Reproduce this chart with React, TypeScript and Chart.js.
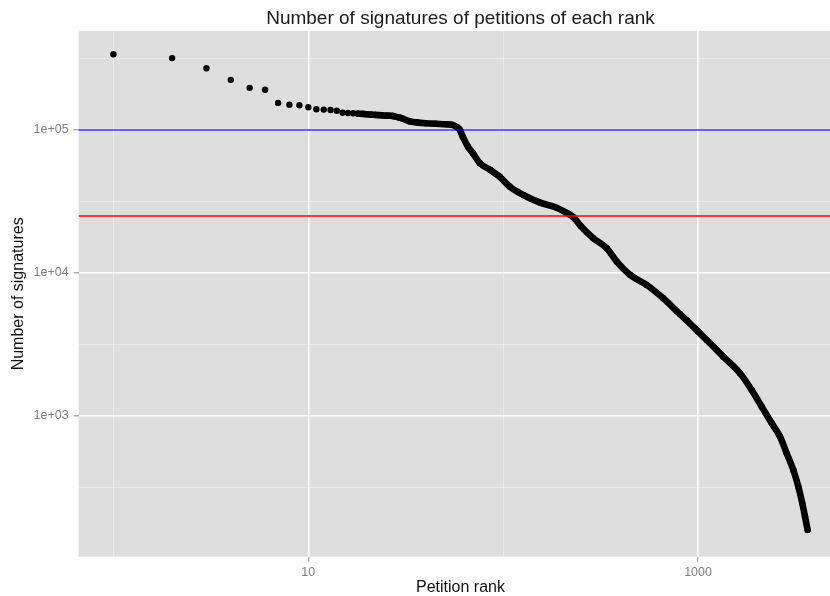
import { useEffect, useRef } from 'react';
import { Chart, registerables } from 'chart.js';

Chart.register(...registerables);

const chartTitle = 'Number of signatures of petitions of each rank';
const xAxisTitle = 'Petition rank';
const yAxisTitle = 'Number of signatures';

// Petition rank (x) and number of signatures (y)
const petitionRanks = [
  1, 2, 3, 4, 5, 6, 7, 8, 9, 10,
  11, 12, 13, 14, 15, 16, 17, 18, 19, 20,
  21, 22, 23, 24, 25, 26, 27, 28, 29, 30,
  33, 36, 40, 45, 51, 55, 58, 60, 62, 66,
  70, 76, 86, 96, 108, 127, 155, 188, 212, 229,
  250, 290, 340, 383, 448, 545, 663, 808, 875,
  1000, 1108, 1348, 1642, 1885, 2123, 2389, 2635, 2852, 3084,
  3271, 3429, 3540, 3650,
];
const signatureCounts = [
  338000, 318000, 270000, 224000, 197000, 191000, 154600, 150300, 149000, 144000,
  139600, 138800, 138000, 136400, 132000, 131500, 130800, 130000, 129500, 128800,
  128000, 127500, 127000, 126500, 126000, 125800, 125500, 124000, 122500, 121000,
  115000, 113000, 111500, 110500, 109600, 108400, 104500, 100000, 89800, 76400,
  68700, 58500, 52500, 47100, 40200, 35100, 31000, 28600, 26300, 24600,
  21300, 17500, 14900, 12000, 9700, 8250, 6650, 5150, 4670,
  3900, 3400, 2600, 1990, 1520, 1160, 889, 716, 548, 419,
  321, 245, 198, 160,
];

// Rank from which the points merge into one continuous run
const denseFromRank = 18;

const xTickValues = [1, 10, 100, 1000];
const xTickLabels = ['', '10', '', '1000'];
const yTickValues = [316.227766, 1000, 3162.27766, 10000, 31622.7766, 100000, 316227.766];
const yTickLabels = ['', '1e+03', '', '1e+04', '', '1e+05', ''];

const thresholdValues = [100000, 25000];
const thresholdColors = ['rgba(0,0,255,0.6)', '#ff0000'];
const thresholdWidths = [2, 1.5];

const X_MIN = 0.6633;
const X_MAX = 5500;
const Y_MIN = 103.8;
const Y_MAX = 492000;

const FONT = '"Liberation Sans", Arial, Helvetica, sans-serif';

const panelBackground = {
  id: 'panelBackground',
  beforeDraw(chart: any) {
    const { ctx, chartArea } = chart;
    ctx.save();
    ctx.fillStyle = '#dedede';
    ctx.fillRect(chartArea.left, chartArea.top, chartArea.right - chartArea.left, chartArea.bottom - chartArea.top);
    ctx.restore();
  },
};

const thresholdLines = {
  id: 'thresholdLines',
  afterDatasetsDraw(chart: any) {
    const { ctx, chartArea, scales } = chart;
    ctx.save();
    thresholdValues.forEach((v, i) => {
      const y = scales.y.getPixelForValue(v);
      ctx.strokeStyle = thresholdColors[i];
      ctx.lineWidth = thresholdWidths[i];
      ctx.beginPath();
      ctx.moveTo(chartArea.left, y);
      ctx.lineTo(chartArea.right, y);
      ctx.stroke();
    });
    ctx.restore();
  },
};

const makeGrid = (labels: string[]) => {
  const major = (c: any) => !!labels[c.index];
  return {
    color: (c: any) => (major(c) ? '#ffffff' : 'rgba(255,255,255,0.45)'),
    lineWidth: (c: any) => (major(c) ? 1.6 : 0.8),
    tickColor: (c: any) => (major(c) ? '#8a8a8a' : 'rgba(0,0,0,0)'),
    tickLength: 5,
    tickWidth: 1,
    drawTicks: true,
    drawOnChartArea: true,
  };
};

export default function App() {
  const canvasRef = useRef<HTMLCanvasElement | null>(null);

  useEffect(() => {
    if (!canvasRef.current) return;
    const allPoints = petitionRanks.map((r, i) => ({ x: r, y: signatureCounts[i] }));
    const densePoints = allPoints.filter((p) => p.x >= denseFromRank);

    const chart = new Chart(canvasRef.current, {
      type: 'scatter',
      data: {
        datasets: [
          {
            label: 'dense',
            data: densePoints,
            showLine: true,
            borderColor: '#000000',
            borderWidth: 6.6,
            borderCapStyle: 'round',
            borderJoinStyle: 'round',
            pointRadius: 0,
            cubicInterpolationMode: 'monotone',
          } as any,
          {
            label: 'petitions',
            data: allPoints,
            showLine: false,
            backgroundColor: '#000000',
            borderWidth: 0,
            pointRadius: 3.2,
          },
        ],
      },
      options: {
        responsive: false,
        animation: false,
        devicePixelRatio: 1,
        events: [],
        layout: { padding: { top: 0, right: 17.7, bottom: 0, left: 0 } },
        plugins: {
          legend: { display: false },
          tooltip: { enabled: false },
          title: {
            display: true,
            text: chartTitle,
            fullSize: false,
            color: '#1a1a1a',
            font: { family: FONT, size: 19, weight: 'normal', lineHeight: 1.2 },
            padding: { top: 7, bottom: 1.2 },
          } as any,
        },
        scales: {
          x: {
            type: 'logarithmic',
            min: X_MIN,
            max: X_MAX,
            border: { display: false },
            grid: makeGrid(xTickLabels) as any,
            afterBuildTicks: (scale: any) => {
              scale.ticks = xTickValues.map((v) => ({ value: v }));
            },
            afterFit: (scale: any) => {
              scale.height = 39.3;
            },
            ticks: {
              autoSkip: false,
              maxRotation: 0,
              padding: 3,
              color: '#7f7f7f',
              font: { family: FONT, size: 12.5 },
              callback: (_v: any, i: number) => xTickLabels[i],
            },
            title: {
              display: true,
              text: xAxisTitle,
              color: '#111111',
              font: { family: FONT, size: 16, lineHeight: 1 },
              padding: { top: 0, bottom: 0 },
            },
          },
          y: {
            type: 'logarithmic',
            min: Y_MIN,
            max: Y_MAX,
            border: { display: false },
            grid: makeGrid(yTickLabels) as any,
            afterBuildTicks: (scale: any) => {
              scale.ticks = yTickValues.map((v) => ({ value: v }));
            },
            afterFit: (scale: any) => {
              scale.width = 78.7;
            },
            ticks: {
              autoSkip: false,
              padding: 5,
              color: '#7f7f7f',
              font: { family: FONT, size: 12.5 },
              callback: (_v: any, i: number) => yTickLabels[i],
            },
            title: {
              display: true,
              text: yAxisTitle,
              color: '#111111',
              font: { family: FONT, size: 16, lineHeight: 1.2 },
              padding: { top: 9.4, bottom: 0 },
            },
          },
        },
      },
      plugins: [panelBackground, thresholdLines],
    });

    return () => chart.destroy();
  }, []);

  return (
    <div
      style={{
        position: 'fixed',
        left: 0,
        top: 0,
        width: 830,
        height: 596,
        overflow: 'hidden',
        background: '#ffffff',
      }}
    >
      <canvas ref={canvasRef} width={860} height={596} style={{ display: 'block' }} />
    </div>
  );
}
